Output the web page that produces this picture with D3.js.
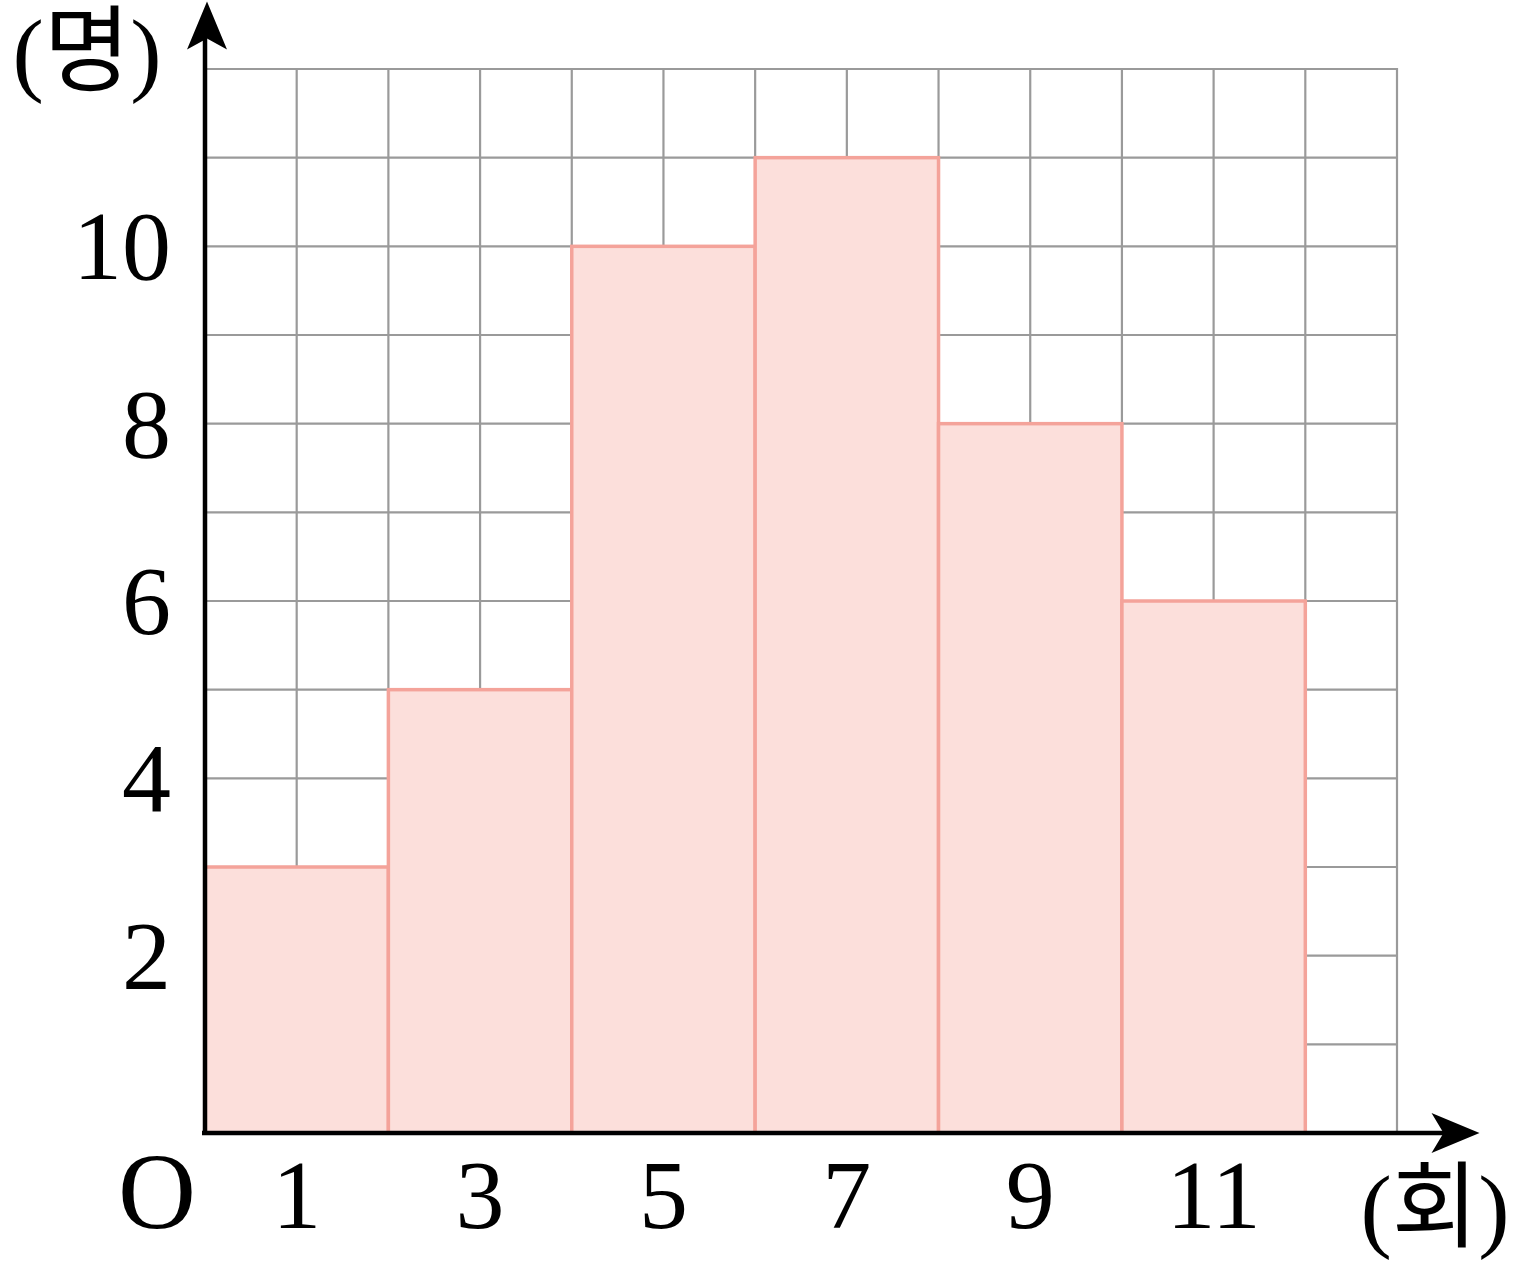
<!DOCTYPE html>
<html><head><meta charset="utf-8">
<script src="https://cdn.jsdelivr.net/npm/d3@7"></script>
<style>html,body{margin:0;padding:0;background:#fff;}</style>
</head><body>
<svg id="c" width="1524" height="1272"></svg>
<script>
const binStarts = [0, 2, 4, 6, 8, 10];
const binWidth = 2;
const counts = [3, 5, 10, 11, 8, 6];
const xTickLabels = [1, 3, 5, 7, 9, 11];
const yTickLabels = [2, 4, 6, 8, 10];
const yAxisLabel = "(명)";
const xAxisLabel = "(회)";
const originLabel = "O";

const svg = d3.select("#c");
const x = d3.scaleLinear([0, 13], [205, 1397]);
const y = d3.scaleLinear([0, 12], [1133, 69]);
const serif = "'Liberation Serif', 'Noto Sans CJK KR', serif";

// grid
const g = svg.append("g").attr("stroke", "#9a9a9a").attr("stroke-width", 2.2);
g.selectAll("line.v").data(d3.range(1, 14)).join("line")
  .attr("x1", d => x(d)).attr("x2", d => x(d)).attr("y1", y(0)).attr("y2", y(12) - 1);
g.selectAll("line.h").data(d3.range(1, 13)).join("line")
  .attr("x1", x(0)).attr("x2", x(13) + 1).attr("y1", d => y(d)).attr("y2", d => y(d));

// bars
svg.append("g").selectAll("rect").data(counts).join("rect")
  .attr("x", (d, i) => x(binStarts[i]))
  .attr("y", d => y(d))
  .attr("width", (d, i) => x(binStarts[i] + binWidth) - x(binStarts[i]))
  .attr("height", d => y(0) - y(d))
  .attr("fill", "#fcdfdb").attr("stroke", "#f4a39a").attr("stroke-width", 3.5);

// axes
const ax = svg.append("g");
ax.append("line").attr("x1", x(0) - 3).attr("x2", x(13.75)).attr("y1", y(0)).attr("y2", y(0))
  .attr("stroke", "#000").attr("stroke-width", 4.5);
ax.append("line").attr("x1", x(0)).attr("x2", x(0)).attr("y1", y(0) + 2).attr("y2", y(12.4))
  .attr("stroke", "#000").attr("stroke-width", 4.5);
const xt = x(13.9), yt = y(0);
ax.append("path").attr("d", `M${xt},${yt} L${xt-48},${yt-20} L${xt-36},${yt} L${xt-48},${yt+20} Z`).attr("fill", "#000");
const xa = x(0) + 2, ya = y(12.76);
ax.append("path").attr("d", `M${xa},${ya} L${xa+20},${ya+48} L${xa},${ya+37} L${xa-20},${ya+48} Z`).attr("fill", "#000");

// labels
svg.append("g").selectAll("text").data(yTickLabels).join("text")
  .attr("x", 171).attr("y", d => y(d) + 33)
  .attr("text-anchor", "end").attr("font-family", serif).attr("font-size", 98)
  .text(d => d);
svg.append("g").selectAll("text").data(xTickLabels).join("text")
  .attr("x", d => x(d)).attr("y", 1228)
  .attr("text-anchor", "middle").attr("font-family", serif).attr("font-size", 98)
  .text(d => d);
svg.append("text").attr("x", 157).attr("y", 1228).attr("text-anchor", "middle")
  .attr("font-family", serif).attr("font-size", 108).text(originLabel);
svg.append("text").attr("x", 87).attr("y", 84).attr("text-anchor", "middle")
  .attr("font-family", serif).attr("font-size", 94).text(yAxisLabel);
svg.append("text").attr("x", 1435).attr("y", 1240).attr("text-anchor", "middle")
  .attr("font-family", serif).attr("font-size", 94).text(xAxisLabel);
</script>
</body></html>
